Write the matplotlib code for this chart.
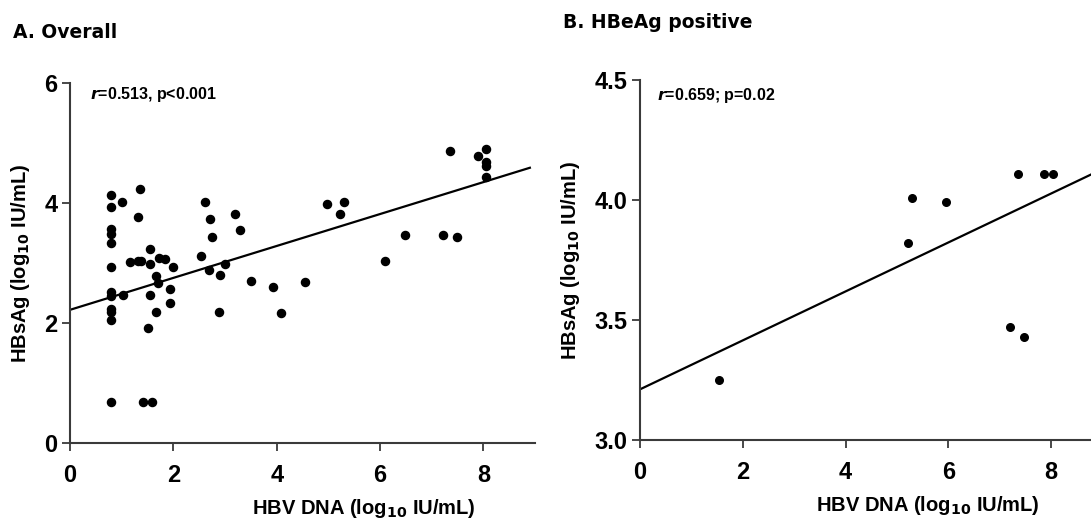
#!/usr/bin/env python3

import numpy as np
import matplotlib
matplotlib.use("Agg")
import matplotlib.pyplot as plt

# panel A: all patients
dna_all = [0.79, 0.79, 0.79, 0.79, 0.79, 0.79, 0.79, 0.79, 0.79, 0.79, 0.79, 0.79,
           1.01, 1.03, 1.16, 1.31, 1.31, 1.36, 1.38, 1.42, 1.51, 1.55, 1.55, 1.55,
           1.58, 1.66, 1.67, 1.71, 1.73, 1.83, 1.94, 1.94, 2.00, 2.53, 2.62, 2.69,
           2.71, 2.74, 2.89, 2.91, 3.00, 3.19, 3.28, 3.51, 3.92, 4.08, 4.54, 4.97,
           5.22, 5.30, 6.09, 6.49, 7.22, 7.36, 7.49, 7.89, 8.05, 8.05, 8.05, 8.06]
hbsag_all = [4.14, 3.94, 3.57, 3.48, 3.34, 2.94, 2.51, 2.45, 2.23, 2.18, 2.05, 0.68,
             4.01, 2.46, 3.02, 3.77, 3.03, 4.23, 3.03, 0.68, 1.92, 3.24, 2.98, 2.47,
             0.68, 2.78, 2.18, 2.67, 3.09, 3.07, 2.57, 2.33, 2.93, 3.11, 4.01, 2.88,
             3.73, 3.44, 2.18, 2.80, 2.99, 3.82, 3.55, 2.70, 2.60, 2.17, 2.69, 3.99,
             3.81, 4.01, 3.03, 3.46, 3.47, 4.86, 3.43, 4.79, 4.90, 4.69, 4.62, 4.43]
fit_all = (0.266, 2.22)   # slope, intercept as drawn

# panel B: HBeAg positive
dna_pos = [1.54, 5.21, 5.29, 5.95, 7.20, 7.35, 7.47, 7.87, 8.03]
hbsag_pos = [3.25, 3.82, 4.01, 3.99, 3.47, 4.11, 3.43, 4.11, 4.11]
fit_pos = (0.102, 3.211)

plt.rcParams['font.family'] = ['Liberation Sans Narrow', 'Liberation Sans', 'DejaVu Sans']
plt.rcParams['font.weight'] = 'bold'
plt.rcParams['axes.labelweight'] = 'bold'
plt.rcParams['mathtext.fontset'] = 'custom'
plt.rcParams['mathtext.rm'] = 'Liberation Sans Narrow:bold'
plt.rcParams['mathtext.it'] = 'Liberation Sans Narrow:italic:bold'
plt.rcParams['mathtext.bf'] = 'Liberation Sans Narrow:bold'

fig = plt.figure(figsize=(10.91, 5.22), dpi=100)
ax1 = fig.add_axes([0.0642, 0.1513, 0.4262, 0.6897])
ax2 = fig.add_axes([0.5866, 0.1571, 0.4240, 0.6897])

def style(ax, xlabel_x):
    for s in ['top', 'right']:
        ax.spines[s].set_visible(False)
    for s in ['left', 'bottom']:
        ax.spines[s].set_linewidth(1.5)
        ax.spines[s].set_color('#3a3a3a')
    ax.tick_params(axis='both', direction='out', length=6, width=1.3,
                   color='#3a3a3a', labelsize=17)
    ax.tick_params(axis='x', pad=9)
    ax.tick_params(axis='y', pad=3)
    ax.set_xlabel(r'HBV DNA (log$_{10}$ IU/mL)', fontsize=14.5, labelpad=7, x=xlabel_x)
    ax.set_ylabel(r'HBsAg (log$_{10}$ IU/mL)', fontsize=14.5, labelpad=9)

# A
ax1.scatter(dna_all, hbsag_all, s=34, color='black', zorder=3)
xs = np.array([0, 8.9])
ax1.plot(xs, fit_all[0] * xs + fit_all[1], color='black', lw=1.6)
ax1.set_xlim(0, 9)
ax1.set_ylim(0, 6)
ax1.set_xticks([0, 2, 4, 6, 8])
ax1.set_yticks([0, 2, 4, 6])
style(ax1, 0.632)
ax1.text(0.043, 0.967, r'$\mathit{r}$=0.513, p<0.001', transform=ax1.transAxes,
         fontsize=11.5, va='center', ha='left')

# B
ax2.scatter(dna_pos, hbsag_pos, s=30, color='black', zorder=3)
xs = np.array([0, 9])
ax2.plot(xs, fit_pos[0] * xs + fit_pos[1], color='black', lw=1.6)
ax2.set_xlim(0, 9)
ax2.set_ylim(3.0, 4.5)
ax2.set_xticks([0, 2, 4, 6, 8])
ax2.set_yticks([3.0, 3.5, 4.0, 4.5])
ax2.set_yticklabels(['3.0', '3.5', '4.0', '4.5'])
style(ax2, 0.622)
ax2.text(0.037, 0.958, r'$\mathit{r}$=0.659; p=0.02', transform=ax2.transAxes,
         fontsize=11.5, va='center', ha='left')

fig.text(13 / 1091, 1 - 32 / 522, 'A. Overall', fontsize=13.5, family='DejaVu Sans',
         weight='bold', va='center', ha='left')
fig.text(563 / 1091, 1 - 22 / 522, 'B. HBeAg positive', fontsize=13.5, family='DejaVu Sans',
         weight='bold', va='center', ha='left')

fig.savefig('out.png', dpi=100)
